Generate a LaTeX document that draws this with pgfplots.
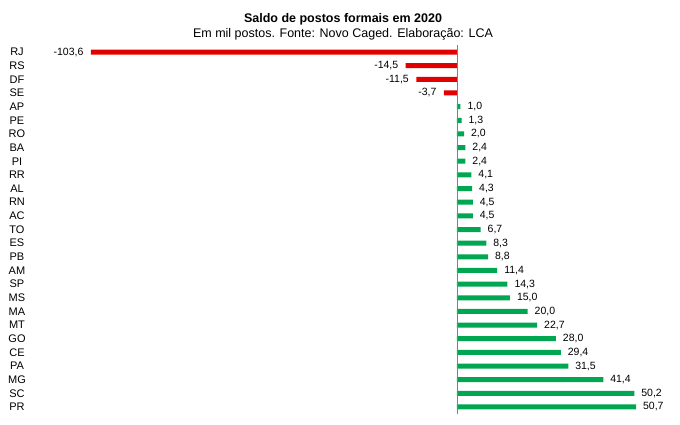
\documentclass[border=0pt]{standalone}
\usepackage{fontspec}
\setmainfont{Liberation Sans}
\usepackage{pgfplots}
\pgfplotsset{compat=1.18}
\definecolor{negred}{HTML}{E00000}
\definecolor{posgreen}{HTML}{00A651}
\begin{document}
\begin{tikzpicture}[x=1pt,y=1pt]
\useasboundingbox (0,0) rectangle (680,424);
\node[font=\bfseries\fontsize{12.5}{14}\selectfont] at (343,405) {Saldo de postos formais em 2020};
\node[font=\fontsize{12.5}{14}\selectfont] at (343,390) {Em mil postos. Fonte: Novo Caged. Elaboração: LCA};
\begin{axis}[
  at={(40pt,10.2pt)}, anchor=south west,
  scale only axis, width=620pt, height=368.6pt,
  xbar, bar width=5pt, bar shift=0pt,
  xmin=-118, xmax=57.46, ymin=-0.5, ymax=26.5, y dir=reverse,
  axis line style={draw=none},
  xtick=\empty, ytick={0,...,26},
  yticklabels={RJ,RS,DF,SE,AP,PE,RO,BA,PI,RR,AL,RN,AC,TO,ES,PB,AM,SP,MS,MA,MT,GO,CE,PA,MG,SC,PR},
  major tick length=0pt,
  yticklabel style={anchor=center, xshift=-23pt, font=\fontsize{11}{13}\selectfont},
  nodes near coords={\pgfmathprintnumber[fixed,fixed zerofill,precision=1,use comma,assume math mode=true]{\pgfplotspointmeta}},
  nodes near coords style={font=\fontsize{10.5}{12}\selectfont},
  clip=false,
]
% negatives
\addplot[draw=none, fill=negred, nodes near coords style={anchor=east, xshift=-4pt}] coordinates {
  (-103.6,0) (-14.5,1) (-11.5,2) (-3.7,3)
};
% positives
\addplot[draw=none, fill=posgreen, nodes near coords style={anchor=west, xshift=3.5pt}] coordinates {
  (1.0,4) (1.3,5) (2.0,6) (2.4,7) (2.4,8) (4.1,9) (4.3,10) (4.5,11) (4.5,12)
  (6.7,13) (8.3,14) (8.8,15) (11.4,16) (14.3,17) (15.0,18) (20.0,19)
  (22.7,20) (28.0,21) (29.4,22) (31.5,23) (41.4,24) (50.2,25) (50.7,26)
};
\draw[gray] (axis cs:0,-0.5) -- (axis cs:0,26.5);
\end{axis}
\end{tikzpicture}
\end{document}
